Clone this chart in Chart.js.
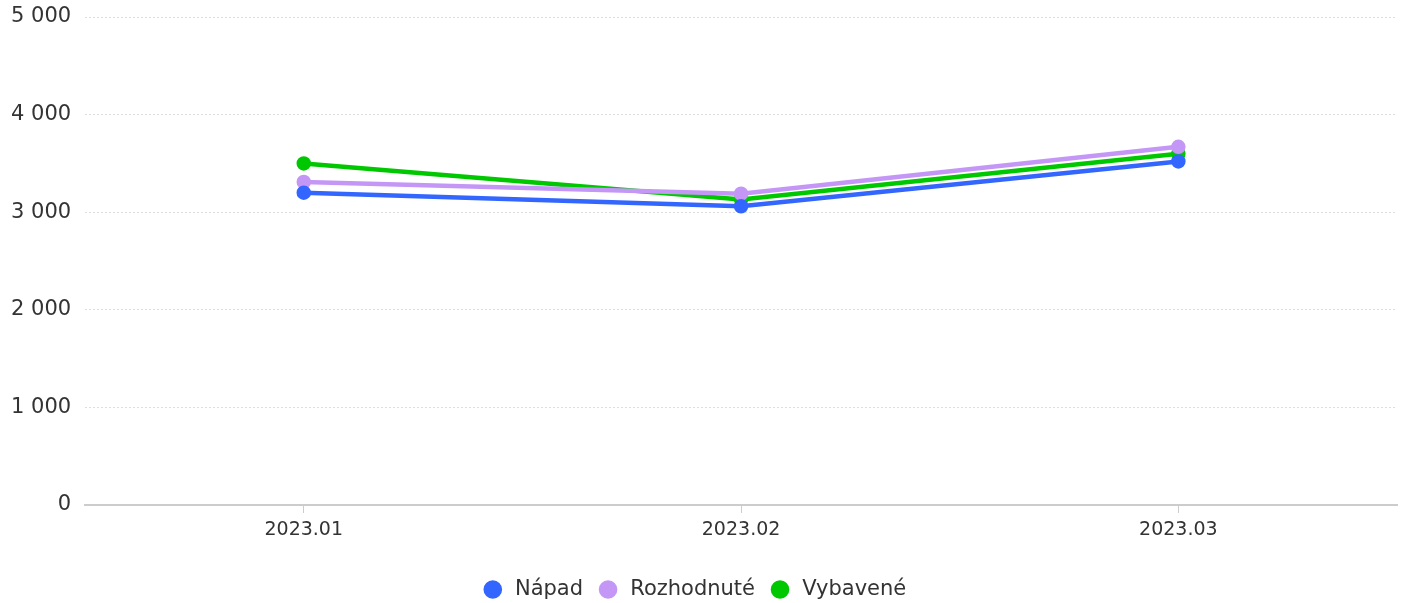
<!DOCTYPE html>
<html>
<head>
<meta charset="utf-8">
<script src="https://cdn.jsdelivr.net/npm/chart.js@4"></script>
<style>
  body { margin: 0; background: #fff; }
  #wrap { width: 1408px; height: 603px; }
</style>
</head>
<body>
<div id="wrap"><canvas id="chart"></canvas></div>
<script>
const months = ['2023.01', '2023.02', '2023.03'];
const napad = [3200, 3060, 3520];
const rozhodnute = [3310, 3190, 3670];
const vybavene = [3500, 3130, 3600];

Chart.defaults.font.family = "'DejaVu Sans', sans-serif";

function fmt(v) {
    return String(v).replace(/\B(?=(\d{3})+(?!\d))/g, ' ');
}

function series(label, data, color) {
    return {
        label: label,
        data: data,
        borderColor: color,
        backgroundColor: color,
        borderWidth: 4.5,
        pointRadius: 5,
        pointHoverRadius: 6,
        tension: 0
    };
}

const ctx = document.getElementById('chart').getContext('2d');
new Chart(ctx, {
    type: 'line',
    data: {
        labels: months,
        datasets: [
            series('Nápad', napad, '#3366ff'),
            series('Rozhodnuté', rozhodnute, '#c497f7'),
            series('Vybavené', vybavene, '#00c800')
        ]
    },
    options: {
        responsive: true,
        maintainAspectRatio: false,
        animation: false,
        layout: { autoPadding: false, padding: { top: 17, right: 11, left: -3, bottom: -7 } },
        plugins: {
            legend: {
                position: 'bottom',
                labels: {
                    usePointStyle: true,
                    pointStyle: 'circle',
                    boxWidth: 10,
                    boxHeight: 10,
                    padding: 20,
                    color: '#333',
                    font: { size: 21 },
                    generateLabels: chart => {
                        const items = Chart.defaults.plugins.legend.labels.generateLabels(chart);
                        items.forEach(it => { it.text = ' ' + it.text; });
                        return items;
                    }
                }
            },
            tooltip: { enabled: false }
        },
        scales: {
            x: {
                offset: true,
                afterFit: s => { s.height = 54; },
                grid: {
                    display: true,
                    drawOnChartArea: false,
                    drawTicks: true,
                    tickLength: 8,
                    color: '#ccc'
                },
                border: { color: '#ccc', width: 2 },
                ticks: {
                    color: '#333',
                    padding: 6,
                    font: { size: 19 }
                }
            },
            y: {
                min: 0,
                max: 5000,
                afterFit: s => { s.paddingTop = 0; },
                ticks: {
                    stepSize: 1000,
                    color: '#333',
                    padding: 14,
                    font: { size: 21 },
                    callback: v => fmt(v)
                },
                grid: {
                    color: '#ddd',
                    drawTicks: false
                },
                border: { display: false, dash: [2, 2] }
            }
        }
    }
});
</script>
</body>
</html>
